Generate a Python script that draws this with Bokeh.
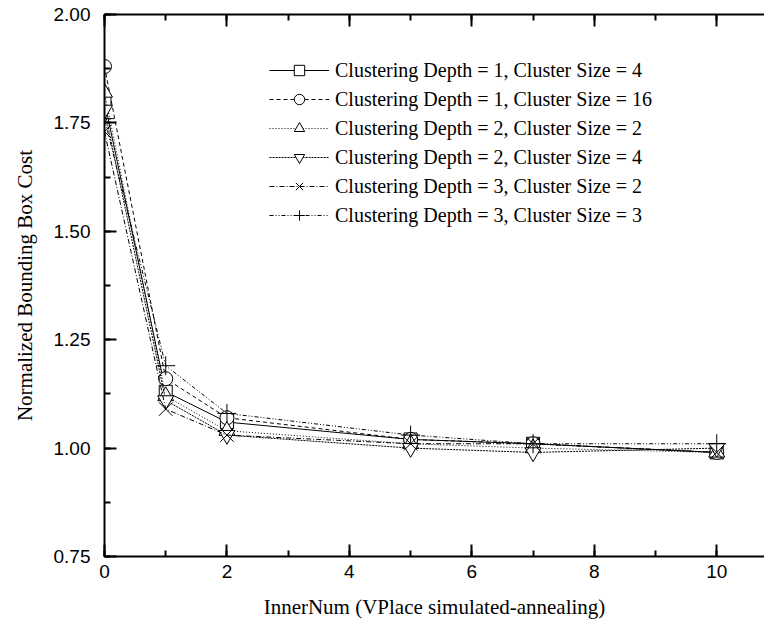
from bokeh.plotting import figure
from bokeh.models import (Range1d, LinearAxis, SingleIntervalTicker, Legend, LegendItem,
                          NumeralTickFormatter, CustomJSTickFormatter)
from bokeh.embed import file_html
from bokeh.resources import INLINE

inner_num = [0, 1, 2, 5, 7, 10]
d1_s4 = [1.80, 1.13, 1.06, 1.02, 1.01, 0.99]
d1_s16 = [1.88, 1.16, 1.07, 1.02, 1.01, 0.99]
d2_s2 = [1.82, 1.12, 1.04, 1.01, 1.00, 0.99]
d2_s4 = [1.78, 1.11, 1.03, 1.00, 0.99, 1.00]
d3_s2 = [1.73, 1.09, 1.03, 1.01, 1.01, 0.99]
d3_s3 = [1.76, 1.19, 1.08, 1.03, 1.01, 1.01]
labels = [
    "Clustering Depth = 1, Cluster Size = 4",
    "Clustering Depth = 1, Cluster Size = 16",
    "Clustering Depth = 2, Cluster Size = 2",
    "Clustering Depth = 2, Cluster Size = 4",
    "Clustering Depth = 3, Cluster Size = 2",
    "Clustering Depth = 3, Cluster Size = 3",
]
series = [d1_s4, d1_s16, d2_s2, d2_s4, d3_s2, d3_s3]
markers = ["square", "circle", "triangle", "inverted_triangle", "x", "cross"]
msizes = [13, 14, 16, 16, 19, 19]
dashes = ["solid", "4 3", "1 2", "2 1", "5 2 1 2", "4 2 1 2 1 2"]

p = figure(width=764, height=635, output_backend="svg", toolbar_location=None,
           x_range=Range1d(0, 10.78), y_range=Range1d(0.75, 2.0),
           min_border_left=104, min_border_right=0, min_border_top=14, min_border_bottom=79,
           x_axis_location=None, y_axis_location=None)
p.grid.visible = False
p.outline_line_color = None
p.background_fill_color = "white"
p.border_fill_color = "white"

bottom = LinearAxis(ticker=SingleIntervalTicker(interval=2, num_minor_ticks=2),
                    axis_label="InnerNum (VPlace simulated-annealing)")
left = LinearAxis(ticker=SingleIntervalTicker(interval=0.25, num_minor_ticks=2),
                  formatter=NumeralTickFormatter(format="0.00"),
                  axis_label="Normalized Bounding Box Cost")
top = LinearAxis(ticker=SingleIntervalTicker(interval=2, num_minor_ticks=2),
                 formatter=CustomJSTickFormatter(code="return '';"))
p.add_layout(bottom, "below")
p.add_layout(left, "left")
p.add_layout(top, "above")

for ax in [bottom, left, top]:
    ax.axis_line_width = 2
    ax.axis_line_color = "black"
    ax.major_tick_line_width = 2
    ax.minor_tick_line_width = 2
    ax.major_tick_in = 12
    ax.major_tick_out = 0
    ax.minor_tick_in = 6
    ax.minor_tick_out = 0
    ax.major_label_text_font = "Liberation Sans"
    ax.major_label_text_font_size = "19px"
    ax.major_label_text_color = "black"
    ax.axis_label_text_font = "Liberation Serif"
    ax.axis_label_text_font_size = "21px"
    ax.axis_label_text_font_style = "normal"
    ax.axis_label_text_color = "black"

top.major_label_standoff = 0
bottom.major_label_standoff = 8
bottom.axis_label_standoff = 14
left.major_label_standoff = 14
left.axis_label_standoff = 14

items = []
for lab, ys, m, s, d in zip(labels, series, markers, msizes, dashes):
    r1 = p.line(inner_num, ys, line_color="black", line_width=1, line_dash=d)
    r2 = p.scatter(inner_num, ys, marker=m, size=s, line_color="black",
                   fill_color="white", line_width=1)
    items.append(LegendItem(label=lab, renderers=[r1, r2]))

legend = Legend(items=items, location=(155, 318))
legend.label_text_font = "Liberation Serif"
legend.label_text_font_size = "20px"
legend.label_text_color = "black"
legend.glyph_width = 60
legend.glyph_height = 26
legend.label_height = 26
legend.spacing = 3
legend.padding = 10
legend.margin = 0
legend.label_standoff = 6
legend.border_line_alpha = 0
legend.background_fill_alpha = 0
p.add_layout(legend, "center")

open("out.html", "w").write(file_html(p, INLINE))
